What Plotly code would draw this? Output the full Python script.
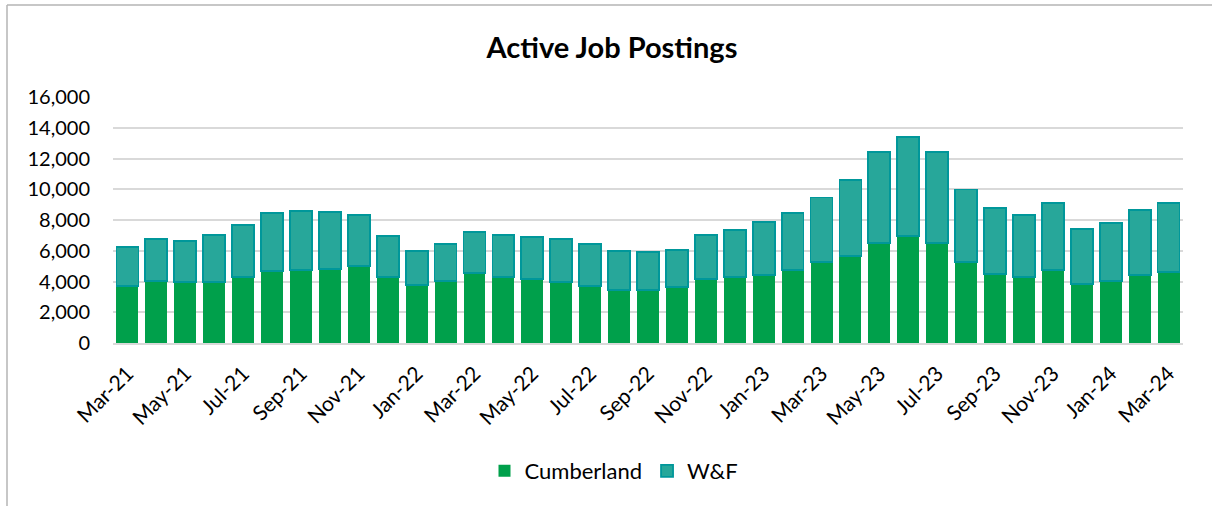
import plotly.graph_objects as go

months = ["Mar-21", "Apr-21", "May-21", "Jun-21", "Jul-21", "Aug-21", "Sep-21", "Oct-21",
          "Nov-21", "Dec-21", "Jan-22", "Feb-22", "Mar-22", "Apr-22", "May-22", "Jun-22",
          "Jul-22", "Aug-22", "Sep-22", "Oct-22", "Nov-22", "Dec-22", "Jan-23", "Feb-23",
          "Mar-23", "Apr-23", "May-23", "Jun-23", "Jul-23", "Aug-23", "Sep-23", "Oct-23",
          "Nov-23", "Dec-23", "Jan-24", "Feb-24", "Mar-24"]
cumberland = [3700, 4050, 3950, 3970, 4310, 4660, 4730, 4790, 5010, 4310, 3790, 4050,
              4530, 4310, 4140, 3950, 3730, 3450, 3450, 3640, 4180, 4270, 4440, 4750,
              5250, 5680, 6480, 6960, 6530, 5270, 4490, 4310, 4750, 3840, 4030, 4420, 4620]
wf = [2530, 2740, 2660, 3050, 3390, 3820, 3880, 3730, 3320, 2650, 2220, 2410,
      2710, 2690, 2780, 2840, 2730, 2560, 2450, 2430, 2870, 3060, 3450, 3680,
      4220, 4920, 5960, 6460, 5910, 4720, 4290, 3990, 4380, 3580, 3780, 4250, 4510]
tick_labels = months[::2]
y_ticks = [0, 2000, 4000, 6000, 8000, 10000, 12000, 14000, 16000]

W, H = 1212, 506
L, R, T, B = 113, 29, 97, 163
pw, ph = W - L - R, H - T - B

def px(xp):
    return (xp - L) / pw

def py(yp):
    return (H - B - yp) / ph

FONT = "Lato"

fig = go.Figure()
fig.add_trace(go.Bar(name="Cumberland", x=months, y=cumberland,
                     marker=dict(color="#00A04B", line=dict(width=0))))
fig.add_trace(go.Bar(name="W&F", x=months, y=wf,
                     marker=dict(color="#27A79A", line=dict(color="#00979A", width=1.8))))

fig.update_layout(
    width=W, height=H,
    margin=dict(l=L, r=R, t=T, b=B),
    barmode="stack", bargap=0.24,
    paper_bgcolor="white", plot_bgcolor="white",
    font=dict(family=FONT, size=20, color="#000000"),
    title=dict(text="<b>Active Job Postings</b>", font=dict(family=FONT, size=29, color="#000000"),
               x=px(612), xref="paper", xanchor="center",
               y=1 - 48 / H, yref="container", yanchor="middle"),
    legend=dict(orientation="h", x=px(614), y=py(471), xanchor="center", yanchor="middle",
                font=dict(family=FONT, size=22), itemwidth=30, traceorder="normal"),
    showlegend=True,
)
fig.update_xaxes(type="category", tickmode="array", tickvals=tick_labels, ticktext=tick_labels,
                 tickangle=-45, showgrid=False, showline=True, linecolor="#D9D9D9", linewidth=2,
                 ticks="", ticklabelstandoff=8, tickfont=dict(family=FONT, size=21))
fig.update_yaxes(range=[0, 16000], tickmode="array", tickvals=y_ticks, tickformat=",",
                 showgrid=True, gridcolor="#D9D9D9", gridwidth=1.5, zeroline=False,
                 showline=False, ticks="", ticklabelstandoff=22, tickfont=dict(family=FONT, size=20))

frame = "#B4B4B4"
fig.add_shape(type="line", xref="paper", yref="paper", x0=px(7), x1=px(W), y0=py(5), y1=py(5),
              line=dict(color=frame, width=1.5))
fig.add_shape(type="line", xref="paper", yref="paper", x0=px(7), x1=px(7), y0=py(5), y1=py(H),
              line=dict(color=frame, width=1.5))

fig.write_html("out.html", config={"displayModeBar": False},
               post_script="document.body.style.margin='0';document.body.style.overflow='hidden';")
